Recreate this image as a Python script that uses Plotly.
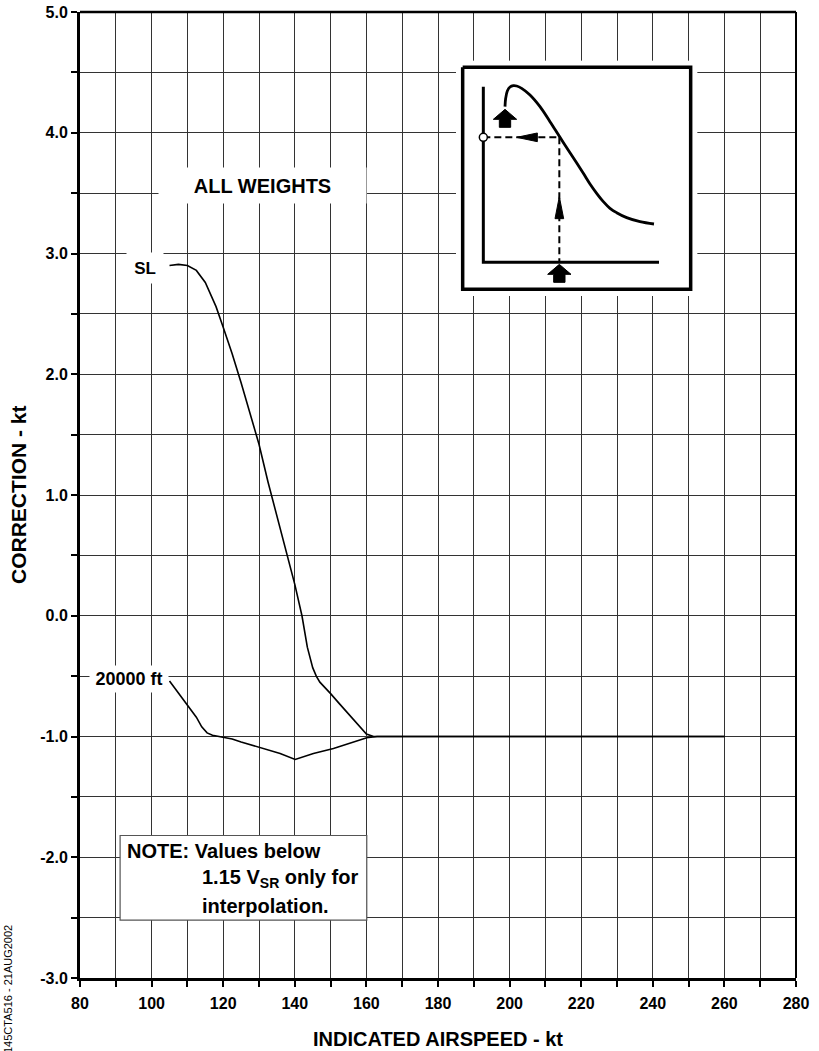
import plotly.graph_objects as go

# ---------------- data ----------------
sl_speed = [105, 107.5, 110, 112.5, 115, 118, 120, 122.5, 125, 127.5, 130, 132.5, 135,
            137.5, 140, 142, 143.5, 145, 146, 147, 148, 150, 152.5, 155, 157.5, 160, 162, 165, 260]
sl_corr = [2.90, 2.91, 2.90, 2.86, 2.76, 2.56, 2.39, 2.17, 1.93, 1.68, 1.42, 1.11, 0.83,
           0.55, 0.26, 0.0, -0.26, -0.43, -0.50, -0.55, -0.58, -0.645, -0.73, -0.815, -0.90, -0.98, -1.0, -1.0, -1.0]

ft20k_speed = [105, 107.5, 110, 112.5, 114, 115.5, 117, 119, 122.5, 125, 130.3, 135.9, 140.1,
               142.4, 145.2, 150.8, 155, 160.1, 163, 165, 260]
ft20k_corr = [-0.54, -0.64, -0.73, -0.84, -0.92, -0.97, -0.99, -1.0, -1.02, -1.045, -1.09, -1.14, -1.19,
              -1.17, -1.14, -1.10, -1.06, -1.01, -1.0, -1.0, -1.0]

x_major = [80, 100, 120, 140, 160, 180, 200, 220, 240, 260, 280]
x_labels = ["80", "100", "120", "140", "160", "180", "200", "220", "240", "260", "280"]
x_minor = [90, 110, 130, 150, 170, 190, 210, 230, 250, 270]
y_major = [5, 4, 3, 2, 1, 0, -1, -2, -3]
y_labels = ["5.0", "4.0", "3.0", "2.0", "1.0", "0.0", "-1.0", "-2.0", "-3.0"]
y_minor = [4.5, 3.5, 2.5, 1.5, 0.5, -0.5, -1.5, -2.5]

# inset schematic (sketch units, y grows downward)
inset_box_x = [38, 722, 722, 38, 38]
inset_box_y = [22, 22, 688, 688, 22]
inset_axes_x = [100, 100, 627]
inset_axes_y = [80, 607, 607]
inset_curve_x = [165, 167, 172, 180, 190, 200, 215, 240, 270, 300, 330, 360, 400, 420, 440, 460,
                 480, 500, 530, 570, 612]
inset_curve_y = [140, 115, 93, 81, 77, 78, 85, 105, 140, 185, 232, 278, 340, 372, 400, 425,
                 445, 458, 473, 485, 492]
inset_hdash_x = [100, 330]
inset_hdash_y = [232, 232]
inset_vdash_x = [328, 328]
inset_vdash_y = [232, 607]
inset_left_head_x = [200, 262, 262, 200]
inset_left_head_y = [232, 219, 245, 232]
inset_up_head_x = [328, 315, 341, 328]
inset_up_head_y = [410, 476, 476, 410]
inset_block1_x = [165, 200, 182, 182, 148, 148, 130, 165]
inset_block1_y = [148, 178, 178, 202, 202, 178, 178, 148]
inset_block2_x = [328, 363, 345, 345, 311, 311, 293, 328]
inset_block2_y = [613, 643, 643, 667, 667, 643, 643, 613]
inset_circle_x = [100]
inset_circle_y = [232]

FONT = "Liberation Sans, Arial, sans-serif"
GRID = "#333333"

FIG_W, FIG_H = 819, 1051
PL, PR, PT, PB = 80, 796, 12, 978          # plot area in pixels
pw, ph = float(PR - PL), float(PB - PT)

fig = go.Figure()

fig.add_trace(go.Scatter(x=sl_speed, y=sl_corr, mode="lines",
                         line=dict(color="black", width=1.6), hoverinfo="skip"))
fig.add_trace(go.Scatter(x=ft20k_speed, y=ft20k_corr, mode="lines",
                         line=dict(color="black", width=1.6), hoverinfo="skip"))

def inset(x, y, **kw):
    fig.add_trace(go.Scatter(x=x, y=y, xaxis="x2", yaxis="y2", hoverinfo="skip", **kw))

inset(inset_box_x, inset_box_y, mode="lines", fill="toself", fillcolor="white",
      line=dict(color="black", width=3.5))
inset(inset_axes_x, inset_axes_y, mode="lines", line=dict(color="black", width=3))
inset(inset_curve_x, inset_curve_y, mode="lines", line=dict(color="black", width=2.8, shape="spline"))
inset(inset_hdash_x, inset_hdash_y, mode="lines", line=dict(color="black", width=2, dash="7px,4px"))
inset(inset_vdash_x, inset_vdash_y, mode="lines", line=dict(color="black", width=2, dash="7px,4px"))
for hx, hy in [(inset_left_head_x, inset_left_head_y), (inset_up_head_x, inset_up_head_y),
               (inset_block1_x, inset_block1_y), (inset_block2_x, inset_block2_y)]:
    inset(hx, hy, mode="lines", fill="toself", fillcolor="black", line=dict(color="black", width=1))
inset(inset_circle_x, inset_circle_y, mode="markers",
      marker=dict(size=8, color="white", line=dict(color="black", width=1.5)))

# inset domain (3 sketch units per pixel)
x2_range = [18, 742]
y2_range = [708, 2]
x2_dom = [(456.0 - PL) / pw, (697.333 - PL) / pw]
y2_dom = [(PB - 296.0) / ph, (PB - 60.667) / ph]

tickfont = dict(size=16, family=FONT, color="black")

fig.update_layout(
    width=FIG_W, height=FIG_H,
    margin=dict(l=PL, r=FIG_W - PR, t=PT, b=FIG_H - PB, pad=0, autoexpand=False),
    paper_bgcolor="white", plot_bgcolor="white",
    showlegend=False,
    font=dict(family=FONT, color="black"),
    xaxis=dict(range=[80, 280], tickmode="array", tickvals=x_major,
               ticktext=["<b>%s</b>" % t for t in x_labels],
               showgrid=True, gridcolor=GRID, gridwidth=1, automargin=False,
               showline=True, linecolor="black", linewidth=3, zeroline=False,
               ticks="outside", ticklen=6, tickwidth=1.5, tickcolor="black",
               tickfont=tickfont, ticklabeloverflow="allow", ticklabelstandoff=3,
               minor=dict(tickmode="array", tickvals=x_minor, showgrid=True, gridcolor=GRID,
                          gridwidth=1, ticks="outside", ticklen=6, tickwidth=1.5, tickcolor="black"),
               fixedrange=True),
    yaxis=dict(range=[-3, 5], tickmode="array", tickvals=y_major,
               ticktext=["<b>%s</b>" % t for t in y_labels],
               showgrid=True, gridcolor=GRID, gridwidth=1, automargin=False,
               showline=True, linecolor="black", linewidth=3, zeroline=False,
               ticks="outside", ticklen=6, tickwidth=1.5, tickcolor="black",
               tickfont=tickfont, ticklabeloverflow="allow",
               minor=dict(tickmode="array", tickvals=y_minor, showgrid=True, gridcolor=GRID,
                          gridwidth=1, ticks="outside", ticklen=6, tickwidth=1.5, tickcolor="black"),
               fixedrange=True),
    xaxis2=dict(domain=x2_dom, range=x2_range, visible=False, anchor="y2", fixedrange=True),
    yaxis2=dict(domain=y2_dom, range=y2_range, visible=False, anchor="x2", fixedrange=True),
)

# top and right frame lines
fig.add_shape(type="line", xref="paper", yref="paper", x0=0, x1=1, y0=1, y1=1,
              line=dict(color="black", width=2.5))
fig.add_shape(type="line", xref="paper", yref="paper", x0=1, x1=1, y0=0, y1=1,
              line=dict(color="black", width=2))

# note box
fig.add_shape(type="rect", xref="x", yref="y", x0=91.2, x1=160.1, y0=-2.52, y1=-1.82,
              fillcolor="white", line=dict(color="#555555", width=1.2), layer="above")

ann = []
ann.append(dict(x=98.2, y=2.88, xref="x", yref="y", text="<b>SL</b>", showarrow=False,
                font=dict(size=17), bgcolor="white", width=34, height=28))
ann.append(dict(x=93.8, y=-0.52, xref="x", yref="y", text="<b>20000 ft</b>", showarrow=False,
                font=dict(size=18), bgcolor="white", width=76, height=24))
ann.append(dict(x=131.1, y=3.567, xref="x", yref="y", text="<b>ALL WEIGHTS</b>", showarrow=False,
                font=dict(size=20), bgcolor="white", width=205, height=33))
ann.append(dict(x=92.6, y=-1.946, xref="x", yref="y", text="<b>NOTE: Values below</b>",
                showarrow=False, xanchor="left", font=dict(size=20)))
ann.append(dict(x=113.5, y=-2.172, xref="x", yref="y", text="<b>1.15 V<sub>SR</sub> only for</b>",
                showarrow=False, xanchor="left", font=dict(size=20)))
ann.append(dict(x=113.5, y=-2.401, xref="x", yref="y", text="<b>interpolation.</b>",
                showarrow=False, xanchor="left", font=dict(size=20)))
# axis titles
ann.append(dict(x=0.5, y=(PB - 1039) / ph, xref="paper", yref="paper",
                xanchor="center", yanchor="middle",
                text="<b>INDICATED AIRSPEED - kt</b>", showarrow=False, font=dict(size=20)))
ann.append(dict(x=(18 - PL) / pw, y=0.5, xref="paper", yref="paper", textangle=-90,
                xanchor="center", yanchor="middle",
                text="<b>CORRECTION - kt</b>", showarrow=False, font=dict(size=21)))
ann.append(dict(x=(8 - PL) / pw, y=(PB - 989) / ph, xref="paper", yref="paper", textangle=-90,
                xanchor="center", yanchor="middle",
                text="145CTA516 - 21AUG2002", showarrow=False, font=dict(size=11)))
fig.update_layout(annotations=ann)

fig.write_html("out.html", config={"displayModeBar": False},
               post_script="document.body.style.margin='0';")
